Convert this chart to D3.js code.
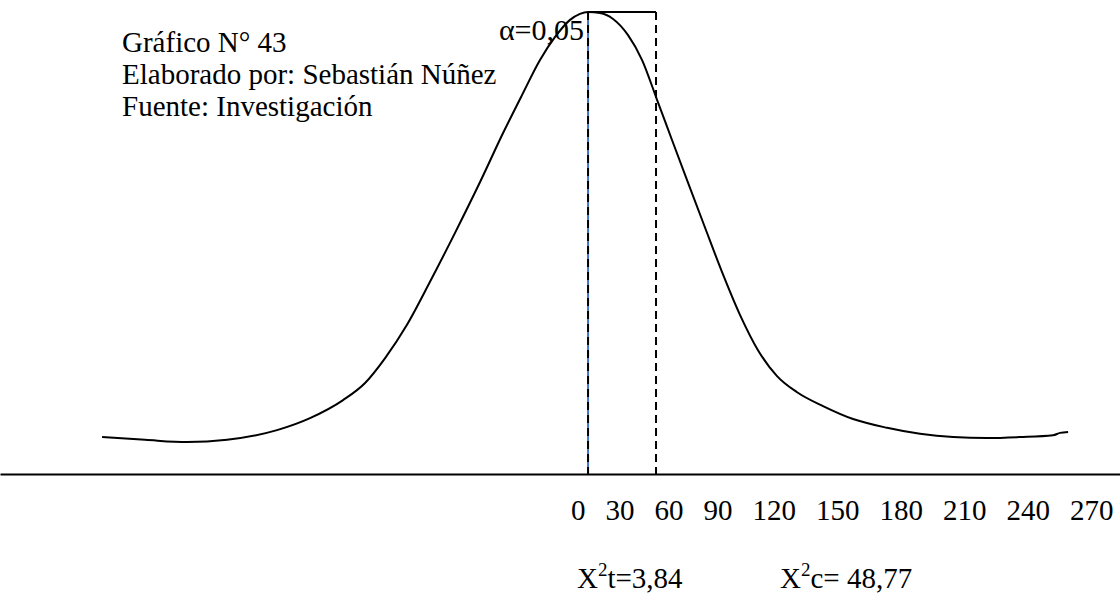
<!DOCTYPE html>
<html>
<head>
<meta charset="utf-8">
<script src="https://cdn.jsdelivr.net/npm/d3@7/dist/d3.min.js"></script>
<style>
  html, body { margin: 0; padding: 0; background: #fff; }
  svg { display: block; font-family: "Liberation Serif", "Times New Roman", serif; }
</style>
</head>
<body>
<svg id="chart"></svg>
<script>
// bell curve (x in critical units, y as share of the peak)
var curveX = [-4.289, -3.910, -3.539, -3.186, -2.745, -2.454, -2.162, -1.968, -1.791, -1.598,
  -1.395, -1.174, -0.953, -0.750, -0.583, -0.424, -0.291, -0.159, -0.071,
  0, 0.106, 0.221, 0.353, 0.477, 0.609, 0.741, 0.883, 1.033, 1.183,
  1.342, 1.500, 1.668, 1.845, 2.074, 2.339, 2.639, 2.930, 3.222, 3.522,
  3.813, 4.104, 4.166, 4.237];
var curveY = [0.080, 0.074, 0.069, 0.074, 0.095, 0.121, 0.160, 0.197, 0.251, 0.323,
  0.416, 0.522, 0.632, 0.738, 0.820, 0.896, 0.946, 0.983, 0.996,
  1.000, 0.998, 0.985, 0.950, 0.896, 0.810, 0.723, 0.630, 0.533, 0.437,
  0.344, 0.268, 0.212, 0.177, 0.147, 0.119, 0.100, 0.087, 0.080, 0.078,
  0.080, 0.084, 0.089, 0.091];

var critTable = 0,   // X2 t
  critCalc = 0.6;    // X2 c

var tickLabels = ['0', '30', '60', '90', '120', '150', '180', '210', '240', '270'];
var headerLines = ['Gráfico N° 43', 'Elaborado por: Sebastián Núñez', 'Fuente: Investigación'];
var alphaLabel = 'α=0,05';
var statLabels = [
  { sup: '2', rest: 't=3,84' },
  { sup: '2', rest: 'c= 48,77' }
];

var width = 1120,
  height = 600;

var svg = d3.select('#chart').attr('width', width).attr('height', height);

var x = d3.scaleLinear().domain([-5.19, 4.695]).range([0, width]),
  y = d3.scaleLinear().domain([0, 1]).range([474, 12]);

// base axis line
var axis = svg.append('g')
  .attr('transform', 'translate(0,' + y(0) + ')')
  .call(d3.axisBottom(x).tickValues([]).tickSizeOuter(0));
axis.select('.domain').attr('stroke', '#000').attr('stroke-width', 2);

// critical lines
svg.append('line')
  .attr('x1', x(critTable)).attr('x2', x(critTable))
  .attr('y1', y(1)).attr('y2', y(0))
  .attr('stroke', '#4472c4').attr('stroke-width', 2);
svg.append('line')
  .attr('x1', x(critTable)).attr('x2', x(critTable))
  .attr('y1', y(1)).attr('y2', y(0))
  .attr('stroke', '#000').attr('stroke-width', 2)
  .attr('stroke-dasharray', '8,5');
svg.append('line')
  .attr('x1', x(critCalc)).attr('x2', x(critCalc))
  .attr('y1', y(1)).attr('y2', y(0))
  .attr('stroke', '#000').attr('stroke-width', 2)
  .attr('stroke-dasharray', '8,5');
svg.append('line')
  .attr('x1', x(critTable)).attr('x2', x(critCalc))
  .attr('y1', y(1)).attr('y2', y(1))
  .attr('stroke', '#000').attr('stroke-width', 1.8);

// the curve
var line = d3.line()
  .x(function(d) { return x(d[0]); })
  .y(function(d) { return y(d[1]); })
  .curve(d3.curveMonotoneX);

svg.append('path')
  .datum(d3.zip(curveX, curveY))
  .attr('d', line)
  .attr('fill', 'none')
  .attr('stroke', '#000')
  .attr('stroke-width', 2);

// header block
svg.append('g').selectAll('text')
  .data(headerLines).enter()
  .append('text')
  .attr('x', 122)
  .attr('y', function(d, i) { return 52 + i * 32; })
  .attr('font-size', 29)
  .attr('fill', '#000')
  .text(function(d) { return d; });

svg.append('text')
  .attr('x', x(critTable) - 4)
  .attr('y', 40)
  .attr('text-anchor', 'end')
  .attr('font-size', 30)
  .text(alphaLabel);

// tick labels, written as one spaced row
var tickRow = svg.append('text')
  .attr('x', 571)
  .attr('y', 520)
  .attr('font-size', 29);
tickRow.selectAll('tspan')
  .data(tickLabels).enter()
  .append('tspan')
  .attr('dx', function(d, i) { return i === 0 ? 0 : 20; })
  .text(function(d) { return d; });

// statistic labels
var statX = [577, 780];
statLabels.forEach(function(s, i) {
  var t = svg.append('text')
    .attr('x', statX[i])
    .attr('y', 588)
    .attr('font-size', 29);
  t.append('tspan').text('X');
  t.append('tspan').attr('dy', -12).attr('font-size', 19).text(s.sup);
  t.append('tspan').attr('dy', 12).text(s.rest);
});
</script>
</body>
</html>
